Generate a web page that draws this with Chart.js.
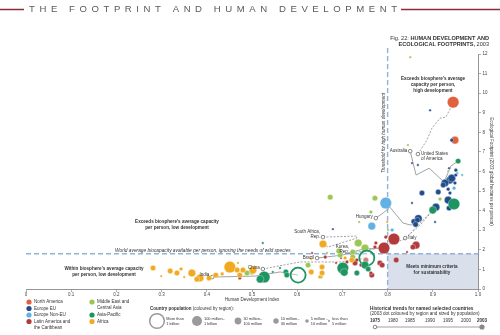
<!DOCTYPE html>
<html>
<head>
<meta charset="utf-8">
<script src="https://cdn.jsdelivr.net/npm/chart.js@4.4.0/dist/chart.umd.min.js"></script>
<style>
  html, body { margin: 0; padding: 0; background: #fff; }
  #wrap { position: relative; width: 500px; height: 335px; }
</style>
</head>
<body>
<div id="wrap"><canvas id="chart"></canvas></div>
<script>
// ── DATA ─────────────────────────────────────────────────────────────────────
// each country: [HDI, Ecological Footprint (gha/person), population class]
// population class: 0 >1bn, 1 100m–1bn, 2 30–100m, 3 10–30m, 4 5–10m, 5 <5m
const northAmerica = [[0.945, 9.54, 1], [0.949, 7.60, 2]];
const europeEU = [
  [0.894, 9.13, 5], [0.942, 7.60, 4], [0.854, 6.43, 5], [0.867, 6.33, 5], [0.951, 6.07, 4],
  [0.936, 6.17, 5], [0.876, 4.90, 3], [0.938, 5.56, 2], [0.942, 5.66, 2], [0.927, 5.41, 2],
  [0.934, 5.10, 4], [0.923, 5.31, 3], [0.949, 5.41, 4], [0.951, 5.82, 4], [0.938, 4.90, 4],
  [0.912, 4.95, 3], [0.934, 4.54, 2], [0.940, 4.25, 3], [0.936, 4.13, 3], [0.907, 4.18, 2],
  [0.905, 3.42, 5], [0.858, 3.45, 3], [0.866, 3.52, 3], [0.862, 3.30, 3], [0.868, 3.60, 2],
  [0.854, 4.39, 5], [0.679, 3.06, 5],
];
const europeNonEU = [
  [0.796, 4.39, 1], [0.765, 3.21, 2], [0.965, 5.82, 5], [0.947, 5.15, 4], [0.954, 5.92, 5],
  [0.810, 3.01, 4], [0.794, 2.24, 3],
];
const latinAmerica = [
  [0.814, 2.55, 1], [0.792, 2.09, 1], [0.863, 2.24, 2], [0.856, 2.14, 3], [0.843, 1.89, 5],
  [0.819, 1.48, 3], [0.783, 1.33, 3], [0.774, 2.35, 4], [0.796, 2.65, 4], [0.772, 2.14, 4],
  [0.752, 1.48, 3], [0.732, 1.48, 4], [0.728, 1.33, 3], [0.710, 1.38, 4], [0.686, 1.33, 5],
  [0.697, 1.58, 5], [0.662, 1.63, 4], [0.633, 1.84, 5], [0.765, 0.71, 3], [0.741, 1.22, 4],
  [0.763, 0.82, 4], [0.473, 0.56, 4], [0.788, 1.22, 3],
];
const middleEast = [
  [0.850, 11.84, 5], [0.845, 7.35, 5], [0.916, 4.59, 4], [0.934, 6.02, 5], [0.772, 4.64, 3],
  [0.763, 3.93, 4], [0.673, 4.69, 3], [0.737, 3.42, 5], [0.801, 3.01, 5], [0.735, 2.35, 2],
  [0.750, 2.09, 2], [0.723, 1.89, 3], [0.695, 1.73, 3], [0.666, 1.84, 5], [0.624, 1.22, 3],
  [0.653, 0.61, 4], [0.489, 0.82, 3], [0.500, 0.87, 3], [0.692, 1.94, 3], [0.723, 1.63, 3],
];
const asiaPacific = [
  [0.956, 6.53, 3], [0.947, 4.34, 1], [0.900, 4.03, 2], [0.754, 1.58, 0], [0.602, 0.71, 0],
  [0.701, 1.07, 1], [0.527, 0.61, 1], [0.518, 0.50, 2], [0.524, 2.35, 5], [0.546, 0.87, 5],
  [0.575, 0.87, 3], [0.577, 0.71, 3], [0.750, 1.22, 2], [0.757, 1.02, 3], [0.732, 0.82, 3],
  [0.562, 1.07, 5], [0.704, 0.85, 2],
];
const africa = [
  [0.281, 1.07, 3], [0.299, 0.66, 5], [0.319, 0.92, 3], [0.334, 0.82, 3], [0.343, 1.02, 4],
  [0.350, 0.61, 5], [0.367, 0.82, 2], [0.385, 0.56, 2], [0.378, 0.50, 3], [0.405, 0.56, 3],
  [0.420, 0.71, 3], [0.434, 0.77, 4], [0.451, 1.12, 1], [0.469, 1.33, 5], [0.467, 0.97, 3],
  [0.473, 0.71, 3], [0.480, 0.97, 3], [0.502, 0.97, 2], [0.631, 0.87, 3], [0.631, 1.53, 5],
  [0.655, 1.12, 3], [0.655, 0.82, 3], [0.650, 0.61, 4], [0.657, 2.30, 2], [0.706, 1.58, 4],
  [0.721, 1.48, 3], [0.799, 3.42, 5],
];

// historical trends 1975 → 2003: [HDI, footprint]
const trendUSA       = [[0.867, 6.89], [0.887, 7.60], [0.898, 8.21], [0.916, 8.72], [0.929, 8.78], [0.938, 9.18], [0.945, 9.54]];
const trendAustralia = [[0.850, 7.04], [0.863, 5.82], [0.892, 6.17], [0.925, 5.46], [0.940, 6.28], [0.956, 6.53]];
const trendHungary   = [[0.774, 3.62], [0.790, 3.88], [0.805, 4.18], [0.834, 3.37], [0.850, 3.27], [0.862, 3.30]];
const trendSouthAfr  = [[0.657, 2.65], [0.732, 2.70], [0.732, 2.60], [0.668, 2.14], [0.657, 2.30]];
const trendKorea     = [[0.721, 1.84], [0.770, 2.04], [0.839, 2.55], [0.872, 3.37], [0.900, 4.03]];
const trendBrazil    = [[0.644, 1.58], [0.700, 1.73], [0.745, 2.04], [0.792, 2.09]];
const trendChina     = [[0.524, 1.02], [0.606, 1.38], [0.695, 1.38], [0.754, 1.58]];
const trendIndia     = [[0.412, 0.61], [0.507, 0.66], [0.562, 0.87], [0.602, 0.71]];
const trendItaly     = [[0.839, 2.60], [0.872, 3.27], [0.907, 4.18]];

const regionNames = ['North America', 'Europe EU', 'Europe Non-EU', 'Latin America and|the Caribbean',
  'Middle East and|Central Asia', 'Asia-Pacific', 'Africa'];
const popLabels = ['More than|1 billion', '100 million–|1 billion', '30 million–|100 million',
  '10 million–|30 million', '5 million –|10 million', 'less than|5 million'];
const trendYears = ['1975', '1980', '1985', '1990', '1995', '2000', '2003'];

const HDI_THRESHOLD = 0.8;   // high human development
const BIOCAPACITY = 1.8;     // world average biocapacity per person

// ── STYLE ────────────────────────────────────────────────────────────────────
const FONT = '"Liberation Sans", Arial, sans-serif';
const CLR = {
  northAmerica: '#e2603c', europeEU: '#1f4d8c', europeNonEU: '#62b1e4', latinAmerica: '#b23a3b',
  middleEast: '#9ac653', asiaPacific: '#1c9561', africa: '#f1aa20',
  text: '#333', axis: '#7a7a7a', trend: '#8a8a8a', dash: '#8fb3da', shade: '#d9dfeb', rule: '#8b2c38',
};
const POP_R = [7.5, 5.8, 3.8, 2.7, 1.8, 1.2];

// ── HELPERS ──────────────────────────────────────────────────────────────────
function toPoints(rows) {
  return rows.map(([x, y, c]) => ({ x, y, c, r: POP_R[c] }))
    .sort((a, b) => b.r - a.r);
}

function bubbleSet(label, rows, color) {
  return {
    type: 'bubble', label, data: toPoints(rows), order: 1, clip: false,
    backgroundColor: ctx => (ctx.raw && ctx.raw.c === 0) ? 'rgba(255,255,255,0.35)' : color,
    borderColor: ctx => (ctx.raw && ctx.raw.c === 0) ? color : 'rgba(255,255,255,0.8)',
    borderWidth: ctx => (ctx.raw && ctx.raw.c === 0) ? 1.8 : 0.4,
  };
}

function trendSet(label, rows, dashed) {
  return {
    type: 'line', label, order: 2, clip: false,
    data: rows.map(([x, y]) => ({ x, y })),
    borderColor: CLR.trend, borderWidth: 0.8, borderDash: dashed ? [2, 1.5] : [],
    tension: 0, fill: false,
    pointRadius: ctx => ctx.dataIndex === 0 ? 1.8 : 0,
    pointBackgroundColor: '#fff', pointBorderColor: '#555', pointBorderWidth: 0.7,
  };
}

function font(size, weight = 'normal', style = 'normal') {
  return `${style} ${weight} ${size}px ${FONT}`;
}

function text(ctx, s, x, y, { size = 4.5, weight = 'normal', style = 'normal', align = 'left', color = CLR.text } = {}) {
  ctx.font = font(size, weight, style);
  ctx.textAlign = align;
  ctx.textBaseline = 'middle';
  ctx.fillStyle = color;
  ctx.fillText(s, x, y);
}

function lines(ctx, s, x, y, gap, opts) {
  s.split('|').forEach((ln, i) => text(ctx, ln, x, y + i * gap, opts));
}

// mixed-weight run, right aligned at x
function richRight(ctx, parts, x, y, size) {
  let w = 0;
  parts.forEach(([s, wt]) => { ctx.font = font(size, wt); w += ctx.measureText(s).width; });
  let cx = x - w;
  parts.forEach(([s, wt]) => {
    text(ctx, s, cx, y, { size, weight: wt });
    ctx.font = font(size, wt);
    cx += ctx.measureText(s).width;
  });
}

// ── DECORATION PLUGIN ────────────────────────────────────────────────────────
const decor = {
  id: 'decor',
  beforeDatasetsDraw(chart) {
    const { ctx, scales: { x, y }, chartArea } = chart;
    const tx = x.getPixelForValue(HDI_THRESHOLD);
    const by = y.getPixelForValue(BIOCAPACITY);
    ctx.save();
    ctx.fillStyle = CLR.shade;
    ctx.fillRect(tx, by, chartArea.right - tx, chartArea.bottom - by);
    ctx.strokeStyle = CLR.dash;
    ctx.lineWidth = 1.4;
    ctx.setLineDash([5, 3]);
    ctx.beginPath();
    ctx.moveTo(chartArea.left, by); ctx.lineTo(chartArea.right, by);
    ctx.moveTo(tx, chartArea.top - 6); ctx.lineTo(tx, chartArea.bottom);
    ctx.stroke();
    ctx.restore();
  },
  afterDraw(chart) {
    const { ctx, scales: { x, y }, chartArea } = chart;
    const px = v => x.getPixelForValue(v), py = v => y.getPixelForValue(v);
    ctx.save();

    // header
    const head = 'THE FOOTPRINT AND HUMAN DEVELOPMENT';
    ctx.font = font(9.6);
    const widths = [...head].map(ch => ctx.measureText(ch).width);
    const sum = widths.reduce((a, b) => a + b, 0);
    const gap = (368 - sum) / (head.length - 1);
    let hx = 29;
    [...head].forEach((ch, i) => { text(ctx, ch, hx, 9.5, { size: 9.6, color: '#5a5a5a' }); hx += widths[i] + gap; });
    ctx.strokeStyle = CLR.rule; ctx.lineWidth = 1.4;
    ctx.beginPath(); ctx.moveTo(0, 9.5); ctx.lineTo(24, 9.5); ctx.moveTo(401, 9.5); ctx.lineTo(500, 9.5); ctx.stroke();

    richRight(ctx, [['Fig. 22: ', 'normal'], ['HUMAN DEVELOPMENT AND', 'bold']], 489, 38, 5.6);
    richRight(ctx, [['ECOLOGICAL FOOTPRINTS,', 'bold'], [' 2003', 'normal']], 489, 44.5, 5.6);

    // axis titles
    text(ctx, 'Human Development Index', (chartArea.left + chartArea.right) / 2, 300, { align: 'center' });
    ctx.save();
    ctx.translate(491, (chartArea.top + chartArea.bottom) / 2);
    ctx.rotate(Math.PI / 2);
    text(ctx, 'Ecological Footprint (2003 global hectares per person)', 0, 0, { align: 'center' });
    ctx.restore();
    ctx.save();
    ctx.translate(px(HDI_THRESHOLD) - 4, 133);
    ctx.rotate(-Math.PI / 2);
    text(ctx, 'Threshold for high human development', 0, 0, { align: 'center', size: 4.6, style: 'italic' });
    ctx.restore();

    // zone notes
    const b = { size: 4.6, weight: 'bold', align: 'center' };
    lines(ctx, "Exceeds biosphere's average|capacity per person,|high development", 433, 79, 6, b);
    lines(ctx, "Exceeds biosphere's average capacity|per person, low development", 177, 222, 6, b);
    lines(ctx, "Within biosphere's average capacity|per person, low development", 104, 269, 6, b);
    lines(ctx, 'Meets minimum criteria|for sustainability', 432, 267, 6, b);
    text(ctx, 'World average biocapacity available per person, ignoring the needs of wild species',
      115, py(BIOCAPACITY) - 3, { size: 4.8, style: 'italic' });

    // trend labels, relative to each 1975 point
    const lbl = (rows, s, dx, dy, align) => lines(ctx, s, px(rows[0][0]) + dx, py(rows[0][1]) + dy, 5, { align });
    lbl(trendAustralia, 'Australia', -3, 0, 'right');
    lbl(trendUSA, 'United States|of America', 3, 0, 'left');
    lbl(trendHungary, 'Hungary', -3, -1, 'right');
    lbl(trendSouthAfr, 'South Africa,|Rep.', -3, -5, 'right');
    lbl(trendKorea, 'Korea,|Rep.', -3, -6, 'right');
    lbl(trendBrazil, 'Brazil', -3, 0, 'right');
    lbl(trendChina, 'China', -3, -1, 'right');
    lbl(trendIndia, 'India', -3, -2, 'right');
    lbl(trendItaly, 'Italy', 3, 0, 'left');

    // region legend
    const regionColors = [CLR.northAmerica, CLR.europeEU, CLR.europeNonEU, CLR.latinAmerica,
      CLR.middleEast, CLR.asiaPacific, CLR.africa];
    const slots = [[29, 302], [29, 308.5], [29, 315], [29, 321.5], [92, 302], [92, 315], [92, 321.5]];
    regionNames.forEach((name, i) => {
      const [lx, ly] = slots[i];
      ctx.fillStyle = regionColors[i];
      ctx.beginPath(); ctx.arc(lx, ly, 2.6, 0, Math.PI * 2); ctx.fill();
      lines(ctx, name, lx + 5, ly, 6, {});
    });

    // population legend
    text(ctx, 'Country population', 150, 309, { weight: 'bold' });
    ctx.font = font(4.5, 'bold');
    text(ctx, ' (coloured by region):', 150 + ctx.measureText('Country population').width, 309, {});
    const legR = [7.3, 5, 3.4, 2.7, 1.8, 1.1];
    const legX = [157, 197, 238, 276, 307, 329];
    popLabels.forEach((s, i) => {
      ctx.beginPath(); ctx.arc(legX[i], 321, legR[i], 0, Math.PI * 2);
      if (i === 0) { ctx.strokeStyle = '#999'; ctx.lineWidth = 1.5; ctx.stroke(); }
      else { ctx.fillStyle = '#9a9a9a'; ctx.fill(); }
      lines(ctx, s, legX[i] + legR[i] + 2, 318.5, 5, { size: 3.9 });
    });

    // historical trend legend
    text(ctx, 'Historical trends for named selected countries', 370, 309, { weight: 'bold', size: 4.7 });
    text(ctx, '(2003 dot coloured by region and sized by population)', 370, 314, { size: 4.6 });
    const yx0 = 375, yx1 = 482;
    const yearX = [375, 393, 410, 430, 448, 466, 482];
    trendYears.forEach((yr, i) => text(ctx, yr, yearX[i], 320.5, {
      align: 'center', weight: (i === 0 || i === trendYears.length - 1) ? 'bold' : 'normal' }));
    ctx.strokeStyle = '#888'; ctx.lineWidth = 0.8;
    ctx.beginPath(); ctx.moveTo(yx0, 327); ctx.lineTo(yx1, 327); ctx.stroke();
    ctx.beginPath(); ctx.arc(yx0, 327, 1.8, 0, Math.PI * 2);
    ctx.fillStyle = '#fff'; ctx.fill(); ctx.strokeStyle = '#666'; ctx.stroke();
    ctx.beginPath(); ctx.arc(yx1, 327, 2.6, 0, Math.PI * 2);
    ctx.fillStyle = '#888'; ctx.fill();

    ctx.restore();
  },
};

// ── CHART ────────────────────────────────────────────────────────────────────
new Chart(document.getElementById('chart'), {
  type: 'bubble',
  data: {
    datasets: [
      trendSet('USA', trendUSA, true),
      trendSet('Australia', trendAustralia, false),
      trendSet('Hungary', trendHungary, false),
      trendSet('South Africa', trendSouthAfr, true),
      trendSet('Korea', trendKorea, true),
      trendSet('Brazil', trendBrazil, false),
      trendSet('China', trendChina, true),
      trendSet('India', trendIndia, false),
      trendSet('Italy', trendItaly, true),
      bubbleSet('Africa', africa, CLR.africa),
      bubbleSet('Asia-Pacific', asiaPacific, CLR.asiaPacific),
      bubbleSet('Middle East and Central Asia', middleEast, CLR.middleEast),
      bubbleSet('Latin America and the Caribbean', latinAmerica, CLR.latinAmerica),
      bubbleSet('Europe Non-EU', europeNonEU, CLR.europeNonEU),
      bubbleSet('Europe EU', europeEU, CLR.europeEU),
      bubbleSet('North America', northAmerica, CLR.northAmerica),
    ],
  },
  options: {
    responsive: true, maintainAspectRatio: false, animation: false, events: [],
    layout: { padding: { left: 26, top: 54, right: 0, bottom: 0 } },
    plugins: { legend: { display: false }, tooltip: { enabled: false } },
    scales: {
      x: {
        type: 'linear', position: 'bottom', min: 0, max: 1,
        afterFit(s) { s.height = 46; },
        ticks: { stepSize: 0.1, padding: 0, maxRotation: 0, color: '#444',
          font: { size: 4.5, family: FONT },
          callback: v => v === 0 ? '0' : v.toFixed(1) },
        grid: { drawOnChartArea: false, color: CLR.axis, tickLength: 3, lineWidth: 0.6 },
        border: { color: CLR.axis, width: 0.8 },
      },
      y: {
        type: 'linear', position: 'right', min: 0, max: 12,
        afterFit(s) { s.width = 22; },
        ticks: { stepSize: 1, padding: 1.5, color: '#444', font: { size: 4.5, family: FONT } },
        grid: { drawOnChartArea: false, color: CLR.axis, tickLength: 3, lineWidth: 0.6 },
        border: { color: CLR.axis, width: 0.8 },
      },
    },
  },
  plugins: [decor],
});
</script>
</body>
</html>
